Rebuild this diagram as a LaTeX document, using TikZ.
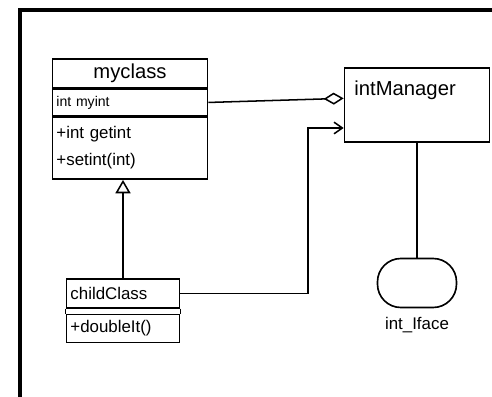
\documentclass[tikz,border=0pt]{standalone}
\usepackage{fontspec}
\setmainfont{Liberation Sans}
\usetikzlibrary{positioning,arrows.meta}
\tikzset{
        part/.style={draw, line width=1.4pt, inner xsep=0.12cm, align=left},
        classname/.style={draw, line width=1.4pt, font=\LARGE},
        link/.style={line width=1.3pt}
}
\begin{document}
\begin{tikzpicture}[x={(0.03cm,0)}, y={(0,-0.03cm)}]
        \useasboundingbox (0,0) rectangle (492,397);
        \clip (0,0) rectangle (492,397);
        \draw [line width=4pt] (20,420) |- (520,10);
        \node [classname, minimum width=4.65cm, minimum height=0.87cm, anchor=north] (myname) at (130,58) {myclass};
        \node [part, text width=4.41cm, minimum height=0.78cm, below=0pt of myname, font=\large] (myattr) {int myint};
        \node [part, text width=4.41cm, minimum height=1.86cm, below=0pt of myattr, font=\Large] (myops) {+int getint\\[5pt]+setint(int)};
        \node [part, text width=3.15cm, minimum height=0.87cm, anchor=north, font=\Large] (childname) at (123,278) {childClass};
        \node [part, text width=3.15cm, minimum height=0.84cm, below=0.15cm of childname, font=\Large] (childops) {+doubleIt()};
        \draw [link] (childname.south west) -- (childops.north west) (childname.south east) -- (childops.north east);
        \node [draw, line width=1.4pt, minimum width=4.35cm, minimum height=2.22cm] (mgr) at (417,105) {};
        \node [font=\LARGE, anchor=north west] (mgrname) at ([xshift=0.2cm, yshift=-0.3cm]mgr.north west) {intManager};
        \node [draw, line width=1.4pt, rounded corners=0.7cm, minimum width=2.37cm, minimum height=1.47cm] (iface) at (417,283) {};
        \node [font=\Large, below=0.15cm of iface] (ifacename) {int\_Iface};
        \coordinate (bend) at (308,128);
        \draw [link, -{Diamond[open, length=0.6cm, width=0.36cm]}] (myattr.east) -- ([yshift=0.2cm]mgr.west);
        \draw [link, -{Straight Barb[length=0.25cm, width=0.35cm]}] (childname.east) -| (bend) -- (bend -| mgr.west);
        \draw [link, -{Triangle[open, length=0.4cm, width=0.45cm]}] (childname.north) -- (childname.north |- myops.south);
        \draw [link] (mgr.south) -- (iface.north);
\end{tikzpicture}
\end{document}
